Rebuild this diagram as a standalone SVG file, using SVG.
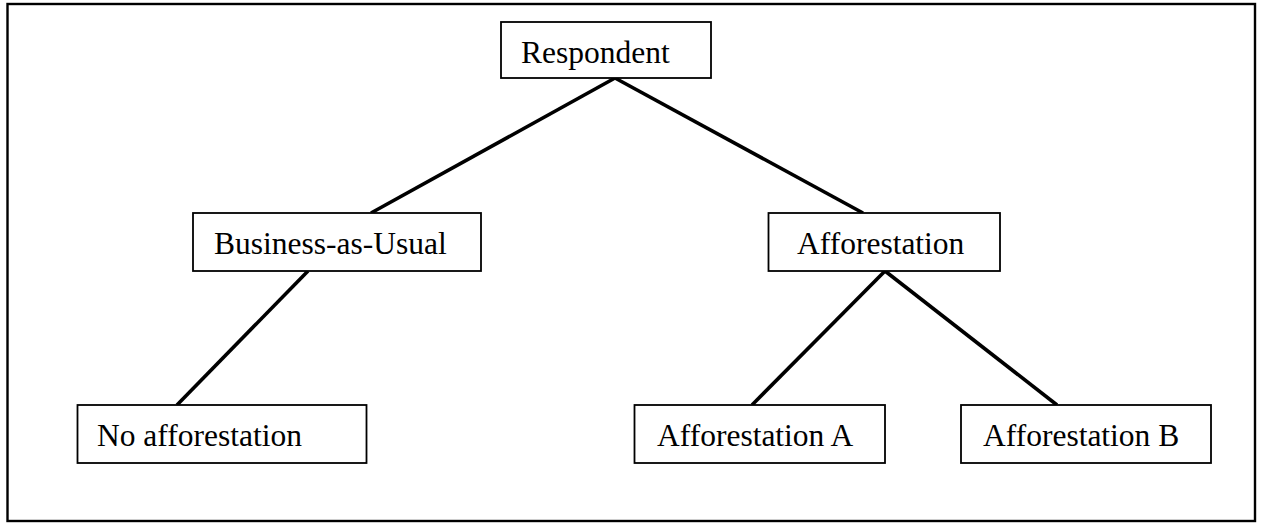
<svg xmlns="http://www.w3.org/2000/svg" width="1261" height="523" viewBox="0 0 1261 523">
<style>
.box{fill:#fff;stroke:#000;stroke-width:1.8}
.lbl{font-family:"Liberation Serif","Times New Roman",serif;font-size:31.5px;fill:#000}
.conn line{stroke:#000;stroke-width:3.6;stroke-linecap:butt}
</style>
<rect x="0" y="0" width="1261" height="523" fill="#fff"/>
<rect x="7.5" y="4" width="1247.5" height="517" fill="none" stroke="#000" stroke-width="2.4"/>
<g id="connectors" class="conn">
<line x1="615" y1="78" x2="371" y2="213"/>
<line x1="615" y1="78" x2="863" y2="213"/>
<line x1="308" y1="271" x2="177" y2="405"/>
<line x1="885" y1="271" x2="752" y2="405"/>
<line x1="885" y1="271" x2="1057" y2="405"/>
</g>
<g id="respondent"><rect class="box" x="501" y="22" width="210" height="56"/><text class="lbl" x="521" y="63">Respondent</text></g>
<g id="bau"><rect class="box" x="193" y="213" width="288" height="58"/><text class="lbl" x="214" y="254">Business-as-Usual</text></g>
<g id="afforestation"><rect class="box" x="768.5" y="213" width="231.5" height="58"/><text class="lbl" x="797" y="254">Afforestation</text></g>
<g id="no-afforestation"><rect class="box" x="77.5" y="405" width="289" height="58"/><text class="lbl" x="97" y="446">No afforestation</text></g>
<g id="afforestation-a"><rect class="box" x="634.5" y="405" width="250.5" height="58"/><text class="lbl" x="657" y="446">Afforestation A</text></g>
<g id="afforestation-b"><rect class="box" x="961" y="405" width="250" height="58"/><text class="lbl" x="983" y="446">Afforestation B</text></g>
</svg>
